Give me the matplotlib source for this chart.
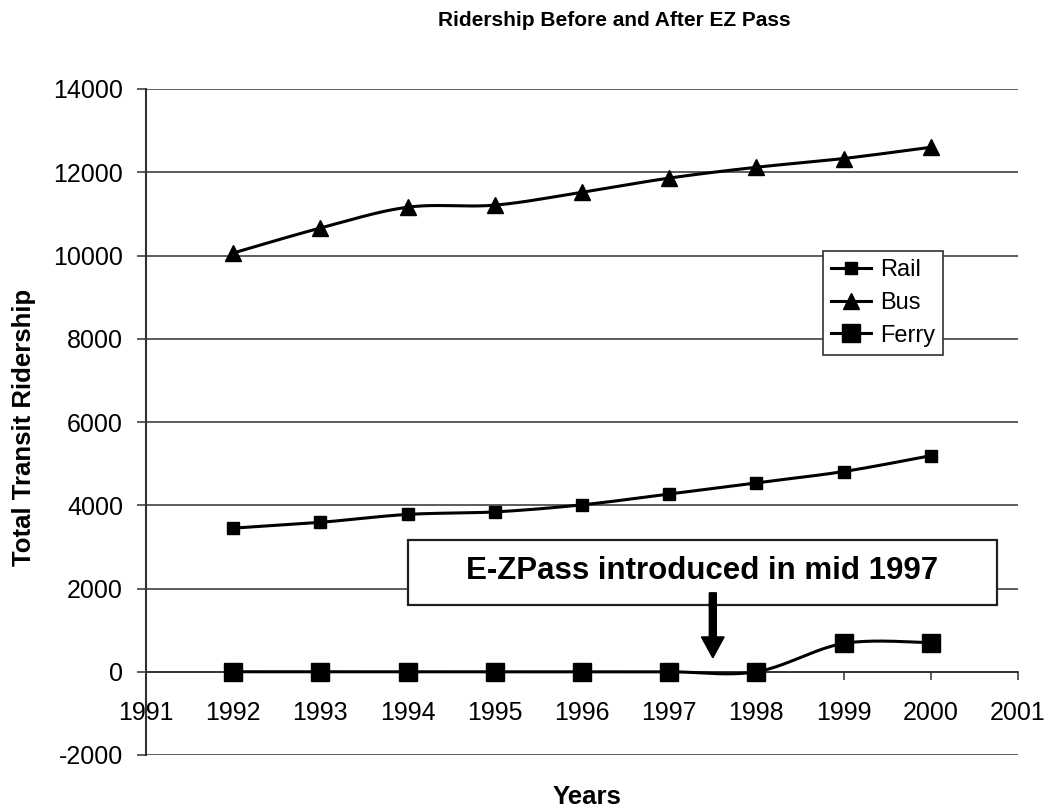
import numpy as np
import matplotlib
matplotlib.use("Agg")
import matplotlib.pyplot as plt
from matplotlib.lines import Line2D
from matplotlib.patches import Rectangle, FancyArrow

plt.rcParams['font.family'] = ['Liberation Sans', 'DejaVu Sans']
plt.rcParams['axes.unicode_minus'] = False

# data
years = [1992, 1993, 1994, 1995, 1996, 1997, 1998, 1999, 2000]
rail = [3450, 3590, 3780, 3840, 4010, 4270, 4540, 4810, 5190]
bus = [10060, 10660, 11160, 11210, 11520, 11860, 12120, 12330, 12600]
ferry = [0, 0, 0, 0, 0, 0, 0, 680, 700]
series_names = ['Rail', 'Bus', 'Ferry']
y_ticks = list(range(-2000, 14001, 2000))
x_ticks = list(range(1991, 2002))


def smooth(xs, ys, n=24):
    # excel style smoothed line: bezier with catmull-rom control points
    xs = np.asarray(xs, float)
    ys = np.asarray(ys, float)
    N = len(xs)
    ox, oy = [], []
    t = np.linspace(0, 1, n)[:, None]
    for i in range(N - 1):
        a = max(i - 1, 0)
        d = min(i + 2, N - 1)
        p0 = np.array([xs[i], ys[i]])
        p3 = np.array([xs[i + 1], ys[i + 1]])
        p1 = p0 + (p3 - np.array([xs[a], ys[a]])) / 6
        p2 = p3 - (np.array([xs[d], ys[d]]) - p0) / 6
        pts = ((1 - t) ** 3) * p0 + 3 * ((1 - t) ** 2) * t * p1 + 3 * (1 - t) * t ** 2 * p2 + t ** 3 * p3
        ox.extend(pts[:, 0])
        oy.extend(pts[:, 1])
    return ox, oy


W, H = 1048, 811
fig = plt.figure(figsize=(W / 100, H / 100), dpi=100)
ax = fig.add_axes([146 / W, 1 - 755 / H, (1018 - 146) / W, (755 - 89) / H])

ax.set_xlim(1991, 2001)
ax.set_ylim(-2000, 14000)
ax.set_xticks(x_ticks)
ax.set_yticks(y_ticks)
ax.yaxis.grid(True, color='#303030', lw=1.1)
ax.set_axisbelow(True)

ax.spines['top'].set_visible(False)
ax.spines['right'].set_visible(False)
ax.spines['bottom'].set_position(('data', 0))
ax.spines['bottom'].set_color('#303030')
ax.spines['bottom'].set_linewidth(1.2)
ax.spines['left'].set_color('#303030')
ax.spines['left'].set_linewidth(1.5)
ax.tick_params(axis='x', direction='out', length=6, width=1.1, pad=15, labelsize=18, colors='#303030', labelcolor='black')
ax.tick_params(axis='y', direction='out', length=6.5, width=1.1, pad=10, labelsize=18, colors='#303030', labelcolor='black')

styles = {
    'Rail': dict(marker='s', ms=8.6),
    'Bus': dict(marker='^', ms=11),
    'Ferry': dict(marker='s', ms=13),
}
handles = []
for name, vals in zip(series_names, [rail, bus, ferry]):
    sx, sy = smooth(years, vals)
    ax.plot(sx, sy, color='black', lw=2.2, zorder=3)
    ax.plot(years, vals, ls='none', color='black', zorder=4, **styles[name])
    handles.append(Line2D([], [], color='black', lw=2.2, **styles[name]))

leg = ax.legend(handles, series_names, loc='upper left',
                bbox_to_anchor=(823 / W, 1 - 251 / H), bbox_transform=fig.transFigure,
                fontsize=17, frameon=True, fancybox=False, framealpha=1,
                edgecolor='#303030', handlelength=1.7, handletextpad=0.35,
                labelspacing=0.45, borderpad=0.35, borderaxespad=0)
leg.get_frame().set_linewidth(1.2)
leg.set_zorder(5)

# annotation box and arrow
ax.add_patch(Rectangle((1994.0, 1608), 6.76, 1560, facecolor='white',
                       edgecolor='#202020', lw=1.6, zorder=5))
ax.text(1997.38, 2424, 'E-ZPass introduced in mid 1997', ha='center', va='center',
        fontsize=22.5, fontweight='bold', zorder=6)
ax.add_patch(FancyArrow(1997.5, 1896, 0, 336 - 1896, width=0.08, head_width=0.26,
                        head_length=500, length_includes_head=True,
                        color='black', zorder=7))

fig.text(614 / W, 1 - 20 / H, 'Ridership Before and After EZ Pass', ha='center', va='center',
         fontsize=15, fontweight='bold')
fig.text(24 / W, 1 - 427 / H, 'Total Transit Ridership', ha='center', va='center',
         rotation=90, fontsize=18.5, fontweight='bold')
fig.text(587 / W, 1 - 797 / H, 'Years', ha='center', va='center',
         fontsize=18.5, fontweight='bold')

fig.savefig('out.png', dpi=100, facecolor='white')
